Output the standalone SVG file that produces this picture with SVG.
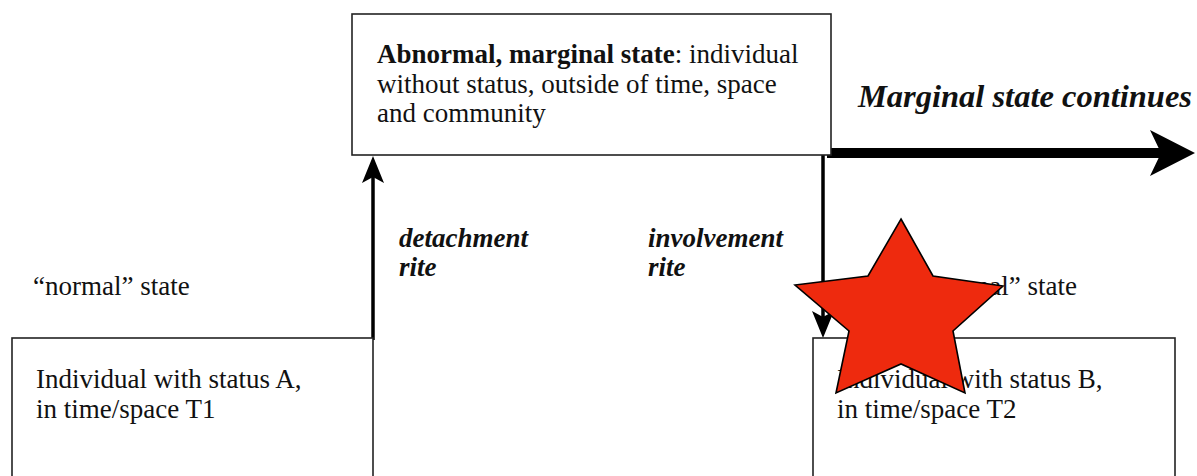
<svg xmlns="http://www.w3.org/2000/svg" width="1197" height="476" viewBox="0 0 1197 476">
<defs>
<style>
.box{fill:#fff;stroke:#222;stroke-width:1.6}
.t{font-family:"Liberation Serif","Times New Roman",serif;font-size:27px;fill:#111}
.b{font-weight:bold}
.bi{font-weight:bold;font-style:italic}
.ln{stroke:#000;stroke-width:3.5;fill:none}
.hd{fill:#000}
</style>
</defs>
<rect width="1197" height="476" fill="#fff"/>
<g id="connectors">
<line class="ln" x1="373" y1="340" x2="373" y2="176"/>
<polygon class="hd" points="373,156 362,183 373,177 384,183"/>
<line class="ln" x1="823" y1="155" x2="823" y2="318"/>
<polygon class="hd" points="823,338 812,311 823,317 834,311"/>
<line stroke="#000" stroke-width="10" x1="827" y1="153" x2="1162" y2="153"/>
<polygon class="hd" points="1150,130 1195,153 1150,176 1161,153"/>
</g>
<g id="top-box">
<rect class="box" x="352" y="14" width="479" height="141"/>
<text class="t" x="377" y="63"><tspan class="b">Abnormal, marginal state</tspan>: individual</text>
<text class="t" x="377" y="92.5">without status, outside of time, space</text>
<text class="t" x="377" y="122">and community</text>
</g>
<g id="left-box">
<rect class="box" x="12" y="338" width="361" height="150"/>
<text class="t" x="36" y="388">Individual with status A,</text>
<text class="t" x="36" y="418">in time/space T1</text>
</g>
<g id="right-box">
<rect class="box" x="813" y="338" width="362" height="150"/>
<text class="t" x="837" y="388">Individual with status B,</text>
<text class="t" x="837" y="418">in time/space T2</text>
</g>
<g id="labels">
<text class="t" x="33" y="295">“normal” state</text>
<text class="t" x="1077" y="295" text-anchor="end">“normal” state</text>
<text class="t bi" x="399" y="247">detachment</text>
<text class="t bi" x="399" y="276">rite</text>
<text class="t bi" x="648" y="247">involvement</text>
<text class="t bi" x="648" y="276">rite</text>
<text class="t bi" x="1192" y="107" text-anchor="end" style="font-size:32.5px">Marginal state continues</text>
</g>
<g id="star">
<polygon points="901,219 933,276 1003,286 953,331 965,393 901,364 836,393 849,331 795,285 868,276" fill="#EE2A0E" stroke="#000" stroke-width="1.6" stroke-linejoin="miter"/>
</g>
</svg>
